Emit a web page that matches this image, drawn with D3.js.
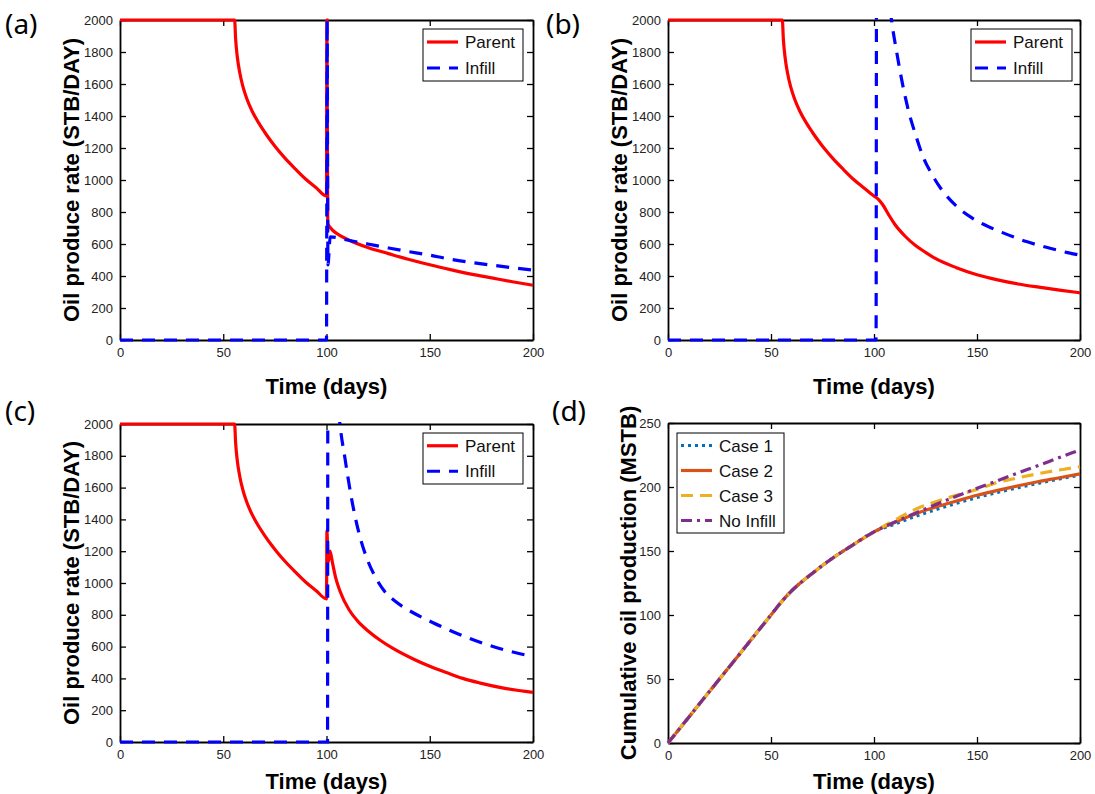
<!DOCTYPE html>
<html>
<head>
<meta charset="utf-8">
<script src="https://cdn.jsdelivr.net/npm/d3@7"></script>
<style>
body { margin: 0; background: #fff; }
svg { display: block; font-family: "Liberation Sans", Arial, sans-serif; }
.axis path, .axis line { stroke: #000; }
.axis path { stroke-width: 1.8; }
.axis line { stroke-width: 1.3; }
.axis text { font-size: 13px; fill: #222; font-family: "Liberation Sans", Arial, sans-serif; }
</style>
</head>
<body>
<script>
// ---- data (day, value) ----
const rateTicks = [0, 200, 400, 600, 800, 1000, 1200, 1400, 1600, 1800, 2000];
const cumTicks = [0, 50, 100, 150, 200, 250];
const dayTicks = [0, 50, 100, 150, 200];

// parent well before the infill starts, same in cases 1-3
const parentEarly = [[0, 2000], [55.5, 2000], [56, 1880], [56.8, 1770], [58, 1670], [59.5, 1585],
  [61.5, 1505], [64, 1430], [67, 1360], [70, 1300], [73, 1245], [76, 1195], [80, 1135],
  [85, 1068], [90, 1005], [95, 952], [100, 900]];

const parentA = [[100.2, 2000], [100.6, 730], [102, 700], [105, 665], [110, 630], [120, 578],
  [130, 540], [140, 503], [150, 470], [160, 440], [170, 412], [180, 388], [190, 364], [200, 342]];
const infillA = [[0, 0], [100, 0], [100.3, 2000], [100.7, 470], [101.8, 645], [110, 625], [120, 600],
  [130, 575], [140, 552], [150, 530], [160, 505], [170, 485], [180, 468], [190, 452], [200, 437]];

const parentB = [[102, 880], [104, 850], [107.5, 775], [110, 725], [115, 650], [120, 592], [125, 548],
  [130, 508], [140, 452], [150, 408], [160, 376], [170, 350], [180, 330], [190, 312], [200, 295]];
const infillB = [[0, 0], [101, 0], [101.3, 3200], [104, 2600], [108.5, 2000], [111, 1800],
  [114, 1590], [117, 1420], [120, 1290], [124, 1140], [128, 1038], [133, 937], [140, 837],
  [147, 768], [155, 712], [163, 668], [174, 615], [185, 575], [194, 546], [200, 530]];

const parentC = [[100.2, 1330], [100.8, 1130], [101.7, 1200], [103, 1120], [104.5, 1030],
  [106.5, 950], [111, 830], [115, 762], [120, 700], [126, 640], [132, 590], [142, 522],
  [150, 476], [158, 437], [166, 400], [174, 372], [187, 336], [200, 312]];
const infillC = [[0, 0], [100.5, 0], [100.7, 3500], [103, 2600], [106.5, 2000], [109, 1780],
  [112, 1540], [116, 1300], [120, 1140], [124, 1030], [128, 950], [133, 888], [139, 835],
  [145, 792], [151.6, 750], [158, 712], [165, 673], [172, 638], [179, 607], [186, 580],
  [193.7, 555], [200, 537]];

// cumulative parent production, MSTB
const cumEarly = [[0, 0], [10, 20], [20, 40], [30, 60], [40, 80], [50, 100], [56, 112], [60, 118.8],
  [70, 132.5], [80, 144.5], [90, 155], [100, 165]];
const cumCase1 = [[110, 171], [120, 177], [130, 182.3], [140, 187.3], [150, 191.8], [160, 195.8],
  [170, 199.5], [180, 203], [190, 206.3], [200, 209.3]];
const cumCase2 = [[110, 172.5], [120, 179], [130, 184.3], [140, 189], [150, 193.5], [160, 197.4],
  [170, 201], [180, 204.3], [190, 207.2], [200, 210.3]];
const cumCase3 = [[110, 174], [120, 182.5], [130, 188.5], [140, 193.5], [150, 198], [160, 203.6],
  [170, 207.2], [180, 210.5], [190, 213.3], [200, 215.8]];
const cumNoInfill = [[110, 172.5], [120, 179.5], [130, 186.3], [140, 192.8], [150, 199], [160, 205],
  [170, 211], [180, 217], [190, 223], [200, 229]];

const RED = "#ff0000", BLUE = "#0000ff";

const panels = [
  { tag: "(a)", x0: 120, x1: 533, y0: 20, y1: 340, ymax: 2000, yticks: rateTicks,
    ylabel: "Oil produce rate (STB/DAY)", ylabX: 79, xlabY: 394, tagX: 5, tagY: 34,
    legend: { x: 423, y: 29, w: 100, h: 52 },
    series: [
      { name: "Parent", data: parentEarly.concat(parentA), color: RED, dash: null },
      { name: "Infill", data: infillA, color: BLUE, dash: "13,9" }] },
  { tag: "(b)", x0: 668, x1: 1080, y0: 20, y1: 340, ymax: 2000, yticks: rateTicks,
    ylabel: "Oil produce rate (STB/DAY)", ylabX: 627, xlabY: 394, tagX: 546, tagY: 34,
    legend: { x: 971, y: 29, w: 101, h: 52 },
    series: [
      { name: "Parent", data: parentEarly.concat(parentB), color: RED, dash: null },
      { name: "Infill", data: infillB, color: BLUE, dash: "13,9" }] },
  { tag: "(c)", x0: 120, x1: 533, y0: 424, y1: 742, ymax: 2000, yticks: rateTicks,
    ylabel: "Oil produce rate (STB/DAY)", ylabX: 79, xlabY: 789, tagX: 5, tagY: 421,
    legend: { x: 423, y: 433, w: 100, h: 51 },
    series: [
      { name: "Parent", data: parentEarly.concat(parentC), color: RED, dash: null },
      { name: "Infill", data: infillC, color: BLUE, dash: "13,9" }] },
  { tag: "(d)", x0: 668, x1: 1080, y0: 423, y1: 743, ymax: 250, yticks: cumTicks,
    ylabel: "Cumulative oil production (MSTB)", ylabX: 636, xlabY: 789, tagX: 552, tagY: 421,
    legend: { x: 677, y: 433, w: 107, h: 100 },
    series: [
      { name: "Case 1", data: cumEarly.concat(cumCase1), color: "#0072BD", dash: "3,4" },
      { name: "Case 2", data: cumEarly.concat(cumCase2), color: "#D95319", dash: null },
      { name: "Case 3", data: cumEarly.concat(cumCase3), color: "#EDB120", dash: "12,7" },
      { name: "No Infill", data: cumEarly.concat(cumNoInfill), color: "#7E2F8E", dash: "11,5,3,5" }] }
];

const svg = d3.select("body").append("svg")
  .attr("width", 1095)
  .attr("height", 794);

svg.append("rect").attr("width", 1095).attr("height", 794).attr("fill", "#fff");

panels.forEach(function (p, i) {
  const x = d3.scaleLinear().domain([0, 200]).range([p.x0, p.x1]);
  const y = d3.scaleLinear().domain([0, p.ymax]).range([p.y1, p.y0]);
  const g = svg.append("g");

  // box with inward ticks on all four sides
  g.append("g").attr("class", "axis")
    .attr("transform", "translate(0," + p.y1 + ")")
    .call(d3.axisBottom(x).tickValues(dayTicks).tickFormat(d3.format("d"))
      .tickSizeInner(-6).tickSizeOuter(0).tickPadding(8));
  g.append("g").attr("class", "axis")
    .attr("transform", "translate(0," + p.y0 + ")")
    .call(d3.axisTop(x).tickValues(dayTicks).tickFormat("").tickSizeInner(-6).tickSizeOuter(0));
  g.append("g").attr("class", "axis")
    .attr("transform", "translate(" + p.x0 + ",0)")
    .call(d3.axisLeft(y).tickValues(p.yticks).tickFormat(d3.format("d"))
      .tickSizeInner(-6).tickSizeOuter(0).tickPadding(7));
  g.append("g").attr("class", "axis")
    .attr("transform", "translate(" + p.x1 + ",0)")
    .call(d3.axisRight(y).tickValues(p.yticks).tickFormat("").tickSizeInner(-6).tickSizeOuter(0));

  // clip lines to the plot box
  g.append("clipPath").attr("id", "clip" + i)
    .append("rect")
    .attr("x", p.x0 - 2).attr("y", p.y0 - 2)
    .attr("width", p.x1 - p.x0 + 4).attr("height", p.y1 - p.y0 + 4);

  const line = d3.line()
    .curve(d3.curveMonotoneX)
    .x(function (d) { return x(d[0]); })
    .y(function (d) { return y(d[1]); });

  g.append("g").attr("clip-path", "url(#clip" + i + ")")
    .selectAll("path")
    .data(p.series)
    .enter().append("path")
    .attr("d", function (s) { return line(s.data); })
    .attr("fill", "none")
    .attr("stroke", function (s) { return s.color; })
    .attr("stroke-width", 3.2)
    .attr("stroke-dasharray", function (s) { return s.dash; });

  // legend
  const L = p.legend;
  const lg = g.append("g");
  lg.append("rect")
    .attr("x", L.x).attr("y", L.y).attr("width", L.w).attr("height", L.h)
    .attr("fill", "#fff").attr("stroke", "#000").attr("stroke-width", 1);
  const rowH = L.h / p.series.length;
  p.series.forEach(function (s, k) {
    const cy = L.y + rowH * (k + 0.5);
    lg.append("line")
      .attr("x1", L.x + 4).attr("x2", L.x + 35)
      .attr("y1", cy).attr("y2", cy)
      .attr("stroke", s.color).attr("stroke-width", 3.2)
      .attr("stroke-dasharray", s.dash);
    lg.append("text")
      .attr("x", L.x + 42).attr("y", cy + 6)
      .attr("font-size", 17).attr("fill", "#111")
      .text(s.name);
  });

  // axis titles
  g.append("text")
    .attr("x", (p.x0 + p.x1) / 2).attr("y", p.xlabY)
    .attr("text-anchor", "middle")
    .attr("font-size", 22).attr("font-weight", "bold")
    .text("Time (days)");
  g.append("text")
    .attr("transform", "translate(" + p.ylabX + "," + (p.y0 + p.y1) / 2 + ") rotate(-90)")
    .attr("text-anchor", "middle")
    .attr("font-size", 22).attr("font-weight", "bold")
    .text(p.ylabel);

  // panel tag
  g.append("text")
    .attr("x", p.tagX).attr("y", p.tagY)
    .attr("font-family", "'Noto Sans', 'Open Sans', sans-serif")
    .attr("font-size", 28)
    .text(p.tag);
});
</script>
</body>
</html>
